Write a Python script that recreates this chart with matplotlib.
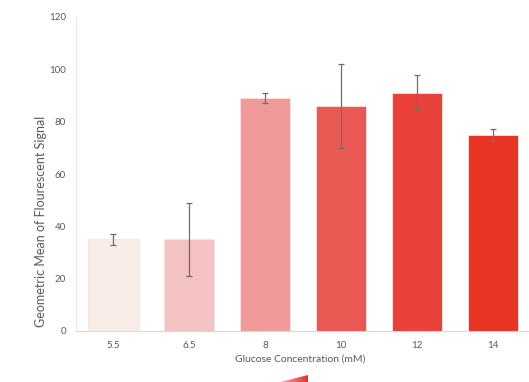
import numpy as np
import matplotlib.pyplot as plt
from matplotlib.patches import Polygon

plt.rcParams['font.family'] = ['Lato', 'DejaVu Sans']

concs = ['5.5', '6.5', '8', '10', '12', '14']
signal = [35, 35, 89, 86, 91, 75]
err = [2.0, 14.0, 2.0, 16.0, 6.7, 2.3]
colours = ['#F9EDE8', '#F4C2C2', '#F09B9A', '#EA5853', '#EA413B', '#E83425']

fig = plt.figure(figsize=(5.29, 3.82), dpi=100)
ax = fig.add_axes([75.5 / 529, 1 - 331 / 382, (531 - 75.5) / 529, 314 / 382])

x = np.arange(len(concs))
ax.bar(x, signal, width=0.66, color=colours, edgecolor='#FBE3E1', linewidth=0.6,
       yerr=err, error_kw=dict(ecolor='#6E6E6E', elinewidth=0.9, capsize=2.5, capthick=0.9),
       zorder=2)

ax.set_xlim(-0.5, len(concs) - 0.5)
ax.set_ylim(0, 120)
ax.set_yticks(range(0, 121, 20))
ax.set_xticks(x)
ax.set_xticklabels(concs)
ax.tick_params(length=0, labelsize=7, colors='#595959', pad=7)
ax.tick_params(axis='y', pad=7)

for s in ['top', 'right']:
    ax.spines[s].set_visible(False)
ax.spines['left'].set_color('#E6E6E6')
ax.spines['bottom'].set_color('#D9D9D9')
ax.spines['left'].set_linewidth(0.8)
ax.spines['bottom'].set_linewidth(0.8)

fig.text(300 / 529, 1 - 359 / 382, 'Glucose Concentration (mM)', ha='center', va='center',
         fontsize=7.5, color='#595959')
fig.text(41 / 529, 1 - 221 / 382, 'Geometric Mean of Flourescent Signal', ha='center',
         va='center', rotation=90, fontsize=9, color='#595959')

# small gradient wedge at the bottom edge
wax = fig.add_axes([280 / 529, 0, 28 / 529, 7 / 382])
wax.set_axis_off()
grad = np.linspace(0, 1, 64).reshape(1, -1)
img = wax.imshow(grad, cmap=plt.matplotlib.colors.LinearSegmentedColormap.from_list(
    'w', ['#F7B0B0', '#E8302A']), extent=[0, 1, 0, 1], aspect='auto')
tri = Polygon([[0, 0], [1, 0], [1, 1]], closed=True, transform=wax.transData,
              facecolor='none', edgecolor='none')
wax.add_patch(tri)
img.set_clip_path(tri)
wax.set_xlim(0, 1)
wax.set_ylim(0, 1)

fig.savefig('out.png', dpi=100)
